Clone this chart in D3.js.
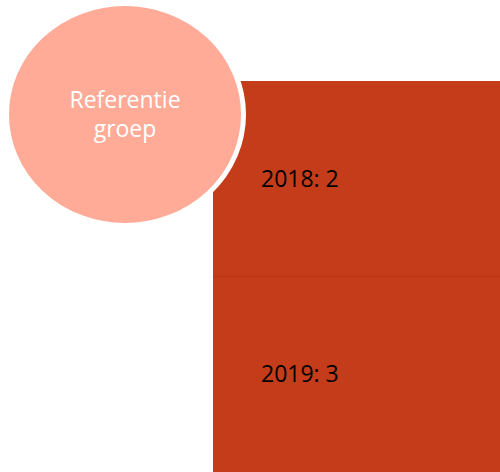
<!DOCTYPE html>
<html>
<head>
<meta charset="utf-8">
<script src="https://cdn.jsdelivr.net/npm/d3@7"></script>
<style>
  body { margin: 0; background: #fff; }
  svg { display: block; font-family: "Open Sans", sans-serif; }
</style>
</head>
<body>
<svg id="chart" width="500" height="472"></svg>
<script>
// data
var years = ["2018", "2019"];
var counts = [2, 3];
var groupLines = ["Referentie", "groep"];

var svg = d3.select("#chart");
var W = 500, H = 472;

// the tile block on the right, one band per year
var box = { left: 213, top: 81, right: 500, bottom: 471 };
var y = d3.scaleBand().domain(years).range([box.top, box.bottom]);

var cells = svg.append("g").attr("class", "cells")
  .selectAll("g").data(years).enter().append("g");

cells.append("rect")
  .attr("x", box.left)
  .attr("y", function(d) { return y(d); })
  .attr("width", box.right - box.left)
  .attr("height", y.bandwidth() + 1)
  .style("fill", "#c43c1a");

// thin divider between the bands
svg.append("g").selectAll("line").data(years.slice(1)).enter().append("line")
  .attr("x1", box.left).attr("x2", box.right)
  .attr("y1", function(d) { return y(d) + 0.5; })
  .attr("y2", function(d) { return y(d) + 0.5; })
  .style("stroke", "#b93216").style("stroke-width", 1);

cells.append("text")
  .attr("x", 261)
  .attr("y", function(d) { return y(d) + y.bandwidth() / 2 + 8.5; })
  .style("font-size", "23px")
  .style("fill", "#000")
  .text(function(d, i) { return d + ": " + counts[i]; });

// reference group bubble
var bubble = svg.append("g").attr("class", "bubble");
bubble.append("ellipse")
  .attr("cx", 125).attr("cy", 114.5)
  .attr("rx", 118.5).attr("ry", 111)
  .style("fill", "#ffab97")
  .style("stroke", "#fff").style("stroke-width", 5);

bubble.append("text")
  .attr("text-anchor", "middle")
  .style("font-size", "23px")
  .style("fill", "#fff")
  .selectAll("tspan").data(groupLines).enter().append("tspan")
  .attr("x", 125)
  .attr("y", function(d, i) { return 107.5 + i * 29.5; })
  .text(function(d) { return d; });
</script>
</body>
</html>
